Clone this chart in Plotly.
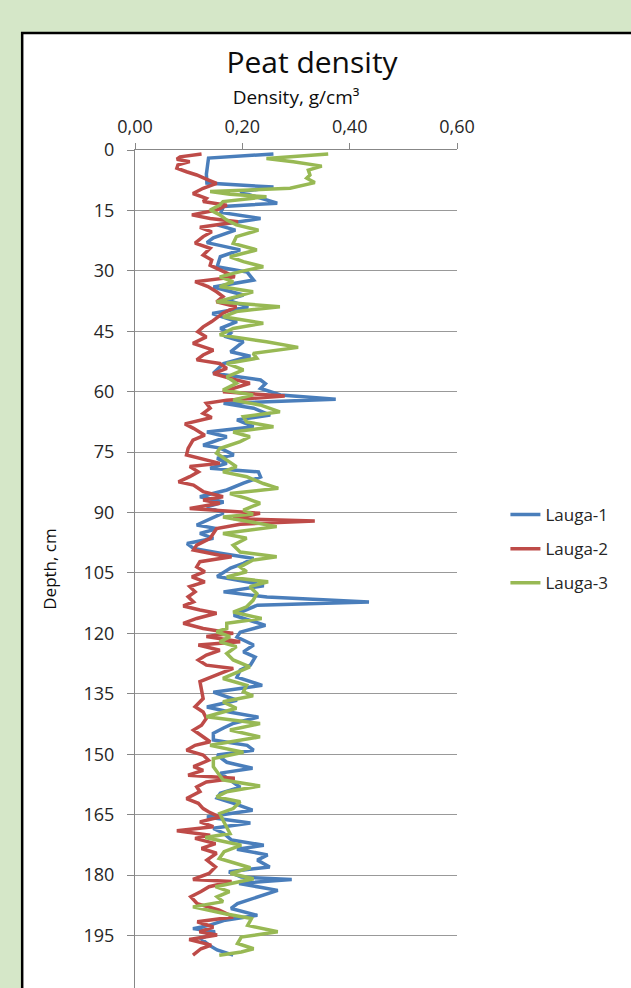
import plotly.graph_objects as go

# ---- data ----
series_names = ["Lauga-1", "Lauga-2", "Lauga-3"]

depth_l1 = [1, 2, 4, 6, 8.2, 9.2, 10.4, 13.2, 14, 15.5, 17, 18.6, 19.9, 21.8, 23, 24.8, 26.5, 29, 30.3, 32.3,
            34, 36, 37.2, 39, 40.6, 42.6, 44.3, 45.5, 46.4, 47.6, 50.1, 51.2, 53, 55.4, 57.1, 58, 59.2, 60.8,
            61.9, 62.9, 64.1, 65.8, 67, 68.7, 70, 71.2, 73.3, 74, 75.7, 76.5, 77.8, 79, 79.9, 81.2, 82.7, 84.4,
            86.1, 87.4, 88.6, 90.1, 93.1, 94, 95.2, 96.4, 97.7, 98.9, 100.1, 101.4, 102.6, 103.8, 105.9, 107.5,
            108.2, 109.7, 111, 112.2, 113, 114.7, 115.5, 118, 119.7, 120.9, 122.9, 124.6, 125.9, 127.9, 129.1,
            130.9, 132.9, 134.6, 136.6, 138.3, 139.6, 140.8, 142.3, 143.5, 144.8, 146.5, 147.8, 149, 150.2, 152,
            153.5, 154.7, 156.4, 158.2, 159.7, 160.9, 162.2, 163.9, 165.6, 167.1, 168.4, 169.6, 171.3, 172.6,
            173.6, 175, 176.3, 178, 179.2, 180.5, 181.1, 182.1, 183.8, 185.4, 187.1, 188.3, 190, 191.2, 192.5,
            193.3, 194.1, 195.8, 197.4, 198.6, 199.9]
dens_l1 = [0.258, 0.137, 0.135, 0.133, 0.134, 0.258, 0.196, 0.265, 0.165, 0.16, 0.234, 0.153, 0.187, 0.146, 0.134,
           0.196, 0.159, 0.153, 0.209, 0.221, 0.146, 0.202, 0.172, 0.211, 0.144, 0.19, 0.159, 0.178, 0.171, 0.202,
           0.178, 0.215, 0.165, 0.146, 0.234, 0.243, 0.234, 0.271, 0.374, 0.165, 0.221, 0.252, 0.19, 0.221, 0.134,
           0.171, 0.127, 0.159, 0.184, 0.153, 0.171, 0.14, 0.23, 0.234, 0.202, 0.171, 0.121, 0.165, 0.134, 0.165,
           0.115, 0.153, 0.121, 0.146, 0.097, 0.109, 0.159, 0.221, 0.202, 0.178, 0.153, 0.221, 0.24, 0.165, 0.246,
           0.436, 0.228, 0.196, 0.184, 0.243, 0.196, 0.19, 0.221, 0.202, 0.224, 0.215, 0.196, 0.19, 0.237, 0.146,
           0.19, 0.134, 0.178, 0.23, 0.184, 0.165, 0.146, 0.146, 0.209, 0.221, 0.153, 0.171, 0.219, 0.159, 0.178,
           0.196, 0.159, 0.153, 0.184, 0.219, 0.134, 0.215, 0.146, 0.165, 0.18, 0.24, 0.19, 0.247, 0.228, 0.251,
           0.175, 0.198, 0.292, 0.194, 0.266, 0.228, 0.191, 0.179, 0.228, 0.168, 0.138, 0.108, 0.149, 0.123, 0.138,
           0.153, 0.183]

depth_l2 = [1, 1.7, 2.3, 2.9, 3.7, 4.5, 5.4, 6.2, 7.4, 8.3, 9.5, 10.8, 12, 12.8, 13.7, 14.9, 16.1, 17, 17.8, 19.2,
            20.3, 21.5, 23.1, 24.4, 26.1, 27.3, 28.6, 29.8, 31.5, 32.7, 33.9, 35.2, 36.4, 37.7, 38.9, 40.5, 42.6,
            43.9, 45.1, 46.4, 48, 49.7, 50.9, 52.1, 53, 54.2, 55.5, 56.7, 57.9, 60, 61.1, 62.1, 62.9, 64.1, 65.4,
            66.4, 68, 69.1, 70.8, 72, 74.1, 75.7, 77, 77.8, 78.6, 79.9, 81.1, 82.4, 83.2, 84.8, 86.1, 86.9, 87.7,
            89, 90.2, 91.5, 92.1, 92.9, 94, 95.2, 96.4, 98.1, 99.3, 100.6, 101, 102.2, 103.5, 104.7, 106, 107.2,
            108.4, 109.7, 110.9, 112.2, 113.2, 114.2, 115, 116.3, 117.5, 118.8, 120, 120.8, 122.1, 122.9, 124.2,
            125.4, 126.6, 127.9, 128.7, 130, 131.2, 132, 134.1, 136.2, 138.2, 139.5, 141.1, 142.8, 144, 145.7,
            146.9, 147.8, 149, 150.2, 151.5, 153.1, 154, 155.2, 156, 156.9, 158.1, 159.3, 161, 162.2, 163.5, 164.3,
            165.6, 166.8, 168, 169, 170.1, 170.9, 172.2, 173.4, 174.6, 176.3, 178, 179.6, 181.1, 181.6, 182.9,
            184.1, 185.4, 187.1, 188.7, 190.4, 191.6, 192.9, 194.1, 194.9, 196, 197.4, 198.3, 199.9]
dens_l2 = [0.124, 0.084, 0.078, 0.102, 0.080, 0.078, 0.096, 0.115, 0.136, 0.152, 0.127, 0.108, 0.133, 0.127, 0.171,
           0.152, 0.106, 0.140, 0.192, 0.121, 0.143, 0.127, 0.112, 0.140, 0.127, 0.143, 0.140, 0.158, 0.186, 0.112,
           0.136, 0.152, 0.164, 0.152, 0.189, 0.164, 0.143, 0.127, 0.117, 0.133, 0.108, 0.146, 0.127, 0.115, 0.158,
           0.171, 0.146, 0.177, 0.214, 0.164, 0.279, 0.171, 0.133, 0.140, 0.127, 0.143, 0.093, 0.109, 0.130, 0.108,
           0.099, 0.096, 0.133, 0.158, 0.102, 0.118, 0.102, 0.081, 0.109, 0.127, 0.164, 0.127, 0.158, 0.102, 0.233,
           0.183, 0.335, 0.196, 0.152, 0.146, 0.140, 0.115, 0.109, 0.158, 0.180, 0.121, 0.115, 0.130, 0.106, 0.130,
           0.102, 0.112, 0.099, 0.109, 0.090, 0.121, 0.152, 0.115, 0.090, 0.127, 0.183, 0.133, 0.196, 0.118, 0.158,
           0.133, 0.118, 0.133, 0.183, 0.158, 0.133, 0.121, 0.124, 0.127, 0.112, 0.127, 0.133, 0.124, 0.109, 0.127,
           0.140, 0.112, 0.096, 0.127, 0.137, 0.109, 0.127, 0.099, 0.186, 0.133, 0.115, 0.121, 0.096, 0.118, 0.127,
           0.137, 0.158, 0.121, 0.146, 0.078, 0.140, 0.112, 0.150, 0.124, 0.152, 0.134, 0.150, 0.138, 0.108, 0.180,
           0.138, 0.123, 0.104, 0.116, 0.157, 0.183, 0.116, 0.146, 0.120, 0.153, 0.101, 0.142, 0.123, 0.108]

depth_l3 = [1, 2.1, 2.9, 4, 5, 6.2, 7, 8.1, 9.5, 10.3, 11, 11.6, 12.8, 13.7, 14.9, 16.1, 17.4, 18.6, 19.9, 21.5,
            23.2, 24.8, 26.5, 27.7, 29, 30.2, 31.5, 32.7, 33.9, 35.2, 36.4, 37.7, 38.9, 40.1, 41.4, 43, 44.3, 45.9,
            47.6, 49, 50.5, 51.7, 53, 54.6, 56.3, 57.9, 59.6, 60.8, 62.1, 63.3, 65, 66.2, 67.5, 68.7, 70, 71.2,
            72.4, 74.1, 75.3, 77, 78.6, 79.9, 81.1, 82.8, 84, 85.3, 86.5, 87.7, 89.4, 90.4, 91.1, 92.3, 93.5, 95.2,
            96.4, 98.1, 99.8, 101, 101.8, 103.5, 104.7, 106, 107.2, 108.4, 110.1, 111.8, 113.4, 114.7, 116.3,
            117.5, 118.8, 119.6, 120.8, 122.1, 123.3, 125, 126.6, 128.3, 130, 131.2, 132.9, 134.5, 135.5, 137,
            138.6, 140.7, 142.4, 144, 145.7, 147.8, 149.5, 151.1, 153.1, 155.2, 156.4, 157.9, 159.3, 160.6, 161.8,
            163.5, 164.7, 166.4, 168, 169.7, 170.7, 172.6, 174.2, 175.9, 178.2, 179.6, 180.9, 182.9, 184.1, 185.4,
            186.6, 187.9, 189.6, 190.8, 192.5, 194.1, 195.4, 197, 198.3, 199.1, 199.9]
dens_l3 = [0.360, 0.245, 0.295, 0.348, 0.323, 0.326, 0.320, 0.335, 0.289, 0.140, 0.177, 0.245, 0.164, 0.158, 0.140,
           0.158, 0.171, 0.189, 0.230, 0.189, 0.183, 0.227, 0.177, 0.202, 0.239, 0.196, 0.158, 0.183, 0.158, 0.220,
           0.189, 0.152, 0.270, 0.189, 0.164, 0.239, 0.183, 0.158, 0.245, 0.304, 0.220, 0.227, 0.171, 0.202, 0.171,
           0.189, 0.164, 0.220, 0.183, 0.233, 0.270, 0.202, 0.208, 0.258, 0.183, 0.214, 0.196, 0.158, 0.152, 0.171,
           0.189, 0.164, 0.208, 0.239, 0.267, 0.177, 0.208, 0.233, 0.202, 0.220, 0.164, 0.214, 0.264, 0.164, 0.208,
           0.183, 0.196, 0.264, 0.220, 0.196, 0.208, 0.171, 0.248, 0.214, 0.227, 0.220, 0.208, 0.183, 0.236, 0.171,
           0.171, 0.152, 0.177, 0.158, 0.189, 0.171, 0.183, 0.214, 0.183, 0.164, 0.208, 0.202, 0.220, 0.164, 0.189,
           0.133, 0.233, 0.177, 0.233, 0.140, 0.202, 0.146, 0.146, 0.158, 0.164, 0.233, 0.171, 0.152, 0.196, 0.183,
           0.158, 0.164, 0.171, 0.177, 0.131, 0.198, 0.166, 0.157, 0.215, 0.178, 0.221, 0.150, 0.176, 0.153, 0.164,
           0.108, 0.168, 0.217, 0.210, 0.266, 0.198, 0.191, 0.221, 0.198, 0.157]

x_tick_vals = [0, 0.2, 0.4, 0.6]
x_tick_text = ["0,00", "0,20", "0,40", "0,60"]
y_tick_vals = [0, 15, 30, 45, 60, 75, 90, 105, 120, 135, 150, 165, 180, 195]

colors = ["#4A7EBB", "#BE4B48", "#98B954"]

# ---- layout geometry (pixels) ----
W, H = 631, 988
L, R, T, B = 135, 173.5, 150, 0
pw = W - L - R
ph = H - T - B


def px_x(px):
    return (px - L) / pw


def px_y(py):
    return (H - B - py) / ph


FONT = "Open Sans"
TXT = "#262626"

fig = go.Figure()
for name, dep, den, col in zip(series_names, [depth_l1, depth_l2, depth_l3],
                               [dens_l1, dens_l2, dens_l3], colors):
    fig.add_trace(go.Scatter(x=den, y=dep, mode="lines", name=name, legendgroup=name,
                             line=dict(color=col, width=3.5)))

fig.update_layout(
    width=W, height=H,
    margin=dict(l=L, r=R, t=T, b=B, pad=0),
    paper_bgcolor="#D5E7C8",
    plot_bgcolor="rgba(0,0,0,0)",
    font=dict(family=FONT, color=TXT, size=17),
    title=dict(text="Peat density", x=312 / W, xanchor="center", xref="container",
               y=1 - 62 / H, yanchor="middle", yref="container",
               font=dict(family=FONT, size=30, color="#0d0d0d")),
    showlegend=True,
    legend=dict(x=px_x(506), xanchor="left", y=px_y(549), yanchor="middle",
                bgcolor="rgba(0,0,0,0)", tracegroupgap=9,
                font=dict(family=FONT, size=17, color=TXT)),
    shapes=[dict(type="rect", xref="paper", yref="paper", layer="below",
                 x0=px_x(22), x1=px_x(660), y0=px_y(1010), y1=px_y(33),
                 fillcolor="white", line=dict(color="black", width=2.5))],
)

fig.update_xaxes(range=[0, 0.6], side="top", tickvals=x_tick_vals, ticktext=x_tick_text,
                 showgrid=False, zeroline=False, showline=True, linecolor="#878787", linewidth=1,
                 ticks="outside", ticklen=6, tickcolor="#878787", ticklabelstandoff=3,
                 tickfont=dict(family=FONT, size=18, color=TXT),
                 title=dict(text="Density, g/cm³", standoff=4,
                            font=dict(family=FONT, size=19, color="#0d0d0d")))
fig.update_yaxes(range=[(H - B - T) / 4.028, 0], tickvals=y_tick_vals,
                 showgrid=True, gridcolor="#999999", gridwidth=1, zeroline=False,
                 showline=True, linecolor="#878787", linewidth=1,
                 ticks="outside", ticklen=7, tickcolor="#878787", ticklabelstandoff=9,
                 tickfont=dict(family=FONT, size=18, color=TXT),
                 title=dict(text="Depth, cm", standoff=22,
                            font=dict(family=FONT, size=17, color="#0d0d0d")))

fig.write_html("out.html", config={"displayModeBar": False},
               post_script="document.body.style.margin='0';")
